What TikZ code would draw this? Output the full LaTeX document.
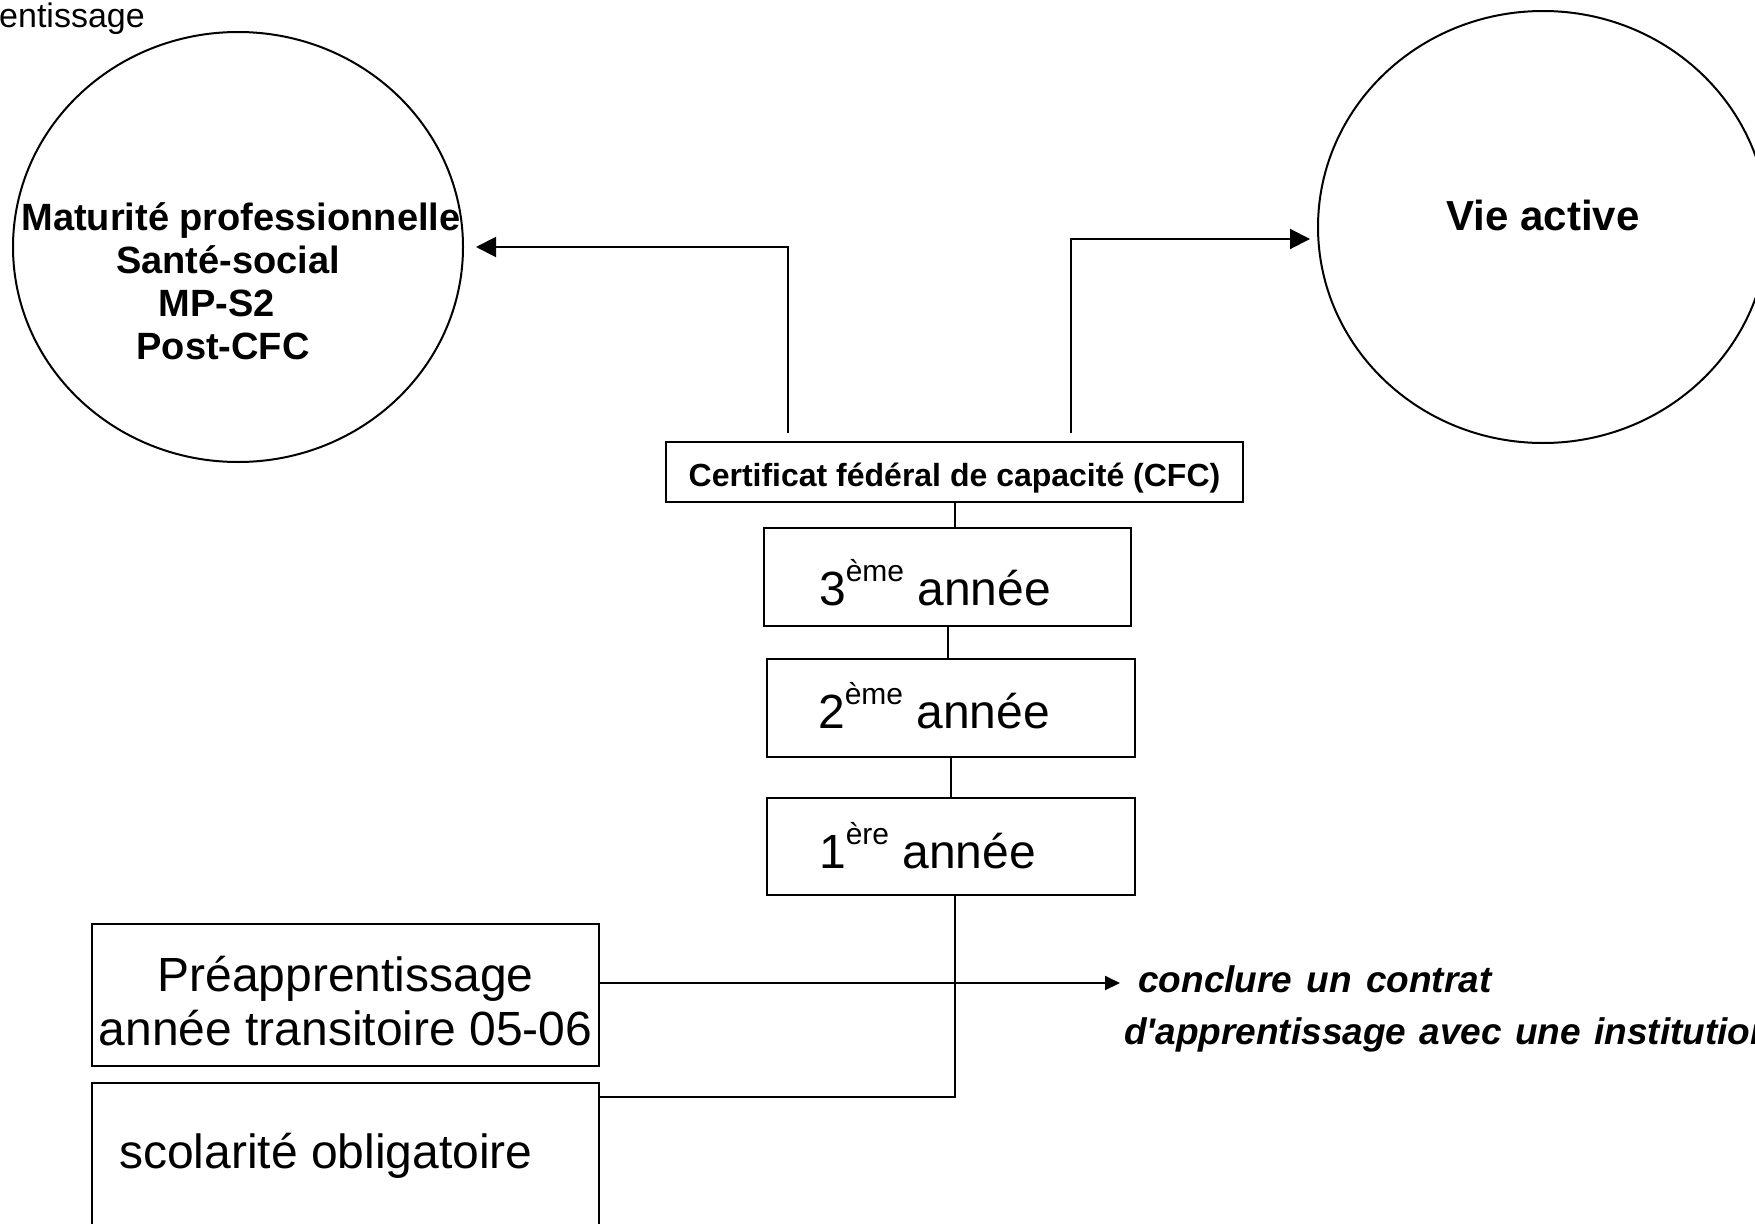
\documentclass[tikz,border=0pt]{standalone}
\usepackage{fontspec}
\setmainfont{Liberation Sans}
\usetikzlibrary{arrows.meta,shapes.geometric,calc}
\newcommand{\myfs}[2]{\fontsize{#1}{#2}\selectfont}
\newcommand{\supx}[1]{\raisebox{24pt}{\myfs{30}{30}#1}}
\begin{document}
\begin{tikzpicture}[x=1pt,y=-1pt,
  box/.style={draw, line width=2pt, rectangle, inner sep=0pt},
  oval/.style={draw, line width=2pt, ellipse, inner sep=0pt},
  conn/.style={line width=2pt},
  arr/.style={conn, -{Triangle[length=20pt,width=20pt]}},
  arrs/.style={conn, -{Triangle[length=15pt,width=14pt]}},
  big/.style={font=\myfs{48}{54}}]
\useasboundingbox (0,0) rectangle (1755,1223);

% top-left clipped text
\node[anchor=base west, inner sep=0pt, font=\myfs{34}{40}] (ent) at (-1,28) {entissage};

% circles
\node[oval, minimum width=450pt, minimum height=430pt] (matu) at (238,247) {};
\node[anchor=base, inner sep=0pt, font=\myfs{38}{43}\bfseries] (matutxt) at (241,230)
  {\begin{tabular}[t]{@{}c@{}}Maturité professionnelle\\Santé-social\hspace*{26pt}\\MP-S2\hspace*{48pt}\\Post-CFC\hspace*{36pt}\end{tabular}};
\node[oval, minimum width=450pt, minimum height=432pt, text height=16pt, text depth=10pt,
  font=\myfs{42}{48}\bfseries] (vie) at (1543,227) {Vie active};

% CFC and years
\node[box, minimum width=577pt, minimum height=60pt, text height=44pt, text depth=16pt,
  font=\myfs{32}{38}\bfseries] (cfc) at (954.5,472) {Certificat fédéral de capacité (CFC)};
\node[box, big, minimum width=367pt, minimum height=98pt, text height=77pt, text depth=21pt]
  (y3) at (947.5,577) {3\supx{ème} année\hspace*{25pt}};
\node[box, big, minimum width=368pt, minimum height=98pt, text height=69pt, text depth=29pt]
  (y2) at (951,708) {2\supx{ème} année\hspace*{34pt}};
\node[box, big, minimum width=368pt, minimum height=97pt, text height=70pt, text depth=27pt]
  (y1) at (951,846.5) {1\supx{ère} année\hspace*{47pt}};

% bottom-left boxes
\node[box, big, minimum width=507pt, minimum height=142pt, text height=67pt, text depth=75pt]
  (pre) at (345.5,995)
  {\begin{tabular}[t]{@{}c@{}}Préapprentissage\\année transitoire 05-06\end{tabular}};
\node[box, big, minimum width=507pt, minimum height=157pt, text height=85pt, text depth=72pt]
  (sco) at (345.5,1161.5) {scolarité obligatoire\hspace*{39pt}};

% italic note
\coordinate (ct) at (1120,983);
\node[anchor=base west, inner sep=0pt, font=\myfs{37}{44}\bfseries\itshape] (c1) at (1138,992)
  {conclure\hspace{4pt} un\hspace{4pt} contrat};
\node[anchor=base west, inner sep=0pt, font=\myfs{37}{44}\bfseries\itshape] (c2) at (1124,1044)
  {d\textquotesingle apprentissage\hspace{3pt} avec\hspace{3pt} une\hspace{3pt} institution};

% connectors
\draw[arr, shorten <=8pt, shorten >=12pt] ($(cfc.north west)+(123,0)$) |- (matu.east);
\draw[arr, shorten <=8pt, shorten >=7pt] ($(cfc.north west)+(406,0)$) |- ($(vie.west)+(0,12)$);
\draw[conn] (cfc.south) -- (cfc.south |- y3.north);
\draw[conn] (y3.south) -- (y3.south |- y2.north);
\draw[conn] (y2.south) -- (y2.south |- y1.north);
\draw[conn] ($(y1.south)+(4,0)$) |- ($(sco.north east)+(0,15)$);
\draw[arrs] ($(pre.east)+(0,-12)$) -- (ct);
\end{tikzpicture}
\end{document}
